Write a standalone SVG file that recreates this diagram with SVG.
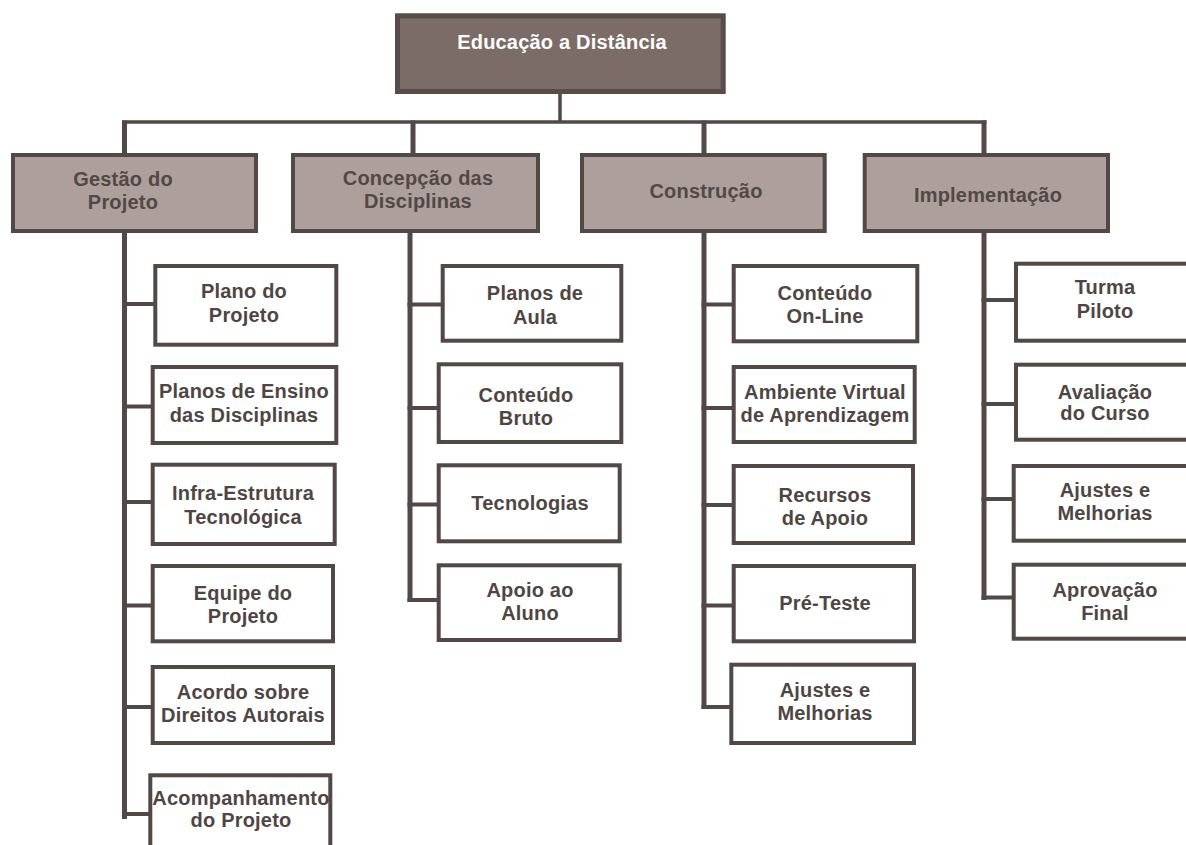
<svg xmlns="http://www.w3.org/2000/svg" width="1186" height="845" viewBox="0 0 1186 845">
<style>
text{font-family:"Liberation Sans",Arial,sans-serif;font-weight:bold;font-size:20px;letter-spacing:0.2px;text-anchor:middle}
.top rect{fill:#7b6c68;stroke:#564c49;stroke-width:5}
.top text{fill:#ffffff}
.l2 rect{fill:#ada09c;stroke:#524845;stroke-width:4}
.l2 text{fill:#524845}
.leaf rect{fill:#ffffff;stroke:#524845;stroke-width:4}
.leaf text{fill:#4f4643}
#connectors line{stroke:#524845;stroke-linecap:butt}
.v{stroke-width:5}
.h{stroke-width:4}
.bus{stroke-width:3.5}
</style>
<rect width="1186" height="845" fill="#ffffff"/>
<g id="connectors">
<line class="bus" x1="560" y1="94" x2="560" y2="122"/>
<line class="bus" x1="122" y1="122" x2="986.5" y2="122"/>
<line class="v" x1="124.5" y1="120.5" x2="124.5" y2="153"/>
<line class="v" x1="413" y1="120.5" x2="413" y2="153"/>
<line class="v" x1="704" y1="120.5" x2="704" y2="153"/>
<line class="v" x1="984" y1="120.5" x2="984" y2="153"/>
<line class="v" x1="124.5" y1="233" x2="124.5" y2="819"/>
<line class="h" x1="122" y1="304" x2="154" y2="304"/>
<line class="h" x1="122" y1="406.5" x2="152" y2="406.5"/>
<line class="h" x1="122" y1="502" x2="152" y2="502"/>
<line class="h" x1="122" y1="605.5" x2="152" y2="605.5"/>
<line class="h" x1="122" y1="707" x2="152" y2="707"/>
<line class="h" x1="122" y1="814" x2="150" y2="814"/>
<line class="v" x1="410" y1="233" x2="410" y2="602"/>
<line class="h" x1="407.5" y1="304.5" x2="446" y2="304.5"/>
<line class="h" x1="407.5" y1="408" x2="438" y2="408"/>
<line class="h" x1="407.5" y1="504.5" x2="438" y2="504.5"/>
<line class="h" x1="407.5" y1="600" x2="438" y2="600"/>
<line class="v" x1="704" y1="233" x2="704" y2="709"/>
<line class="h" x1="701.5" y1="304.5" x2="733" y2="304.5"/>
<line class="h" x1="701.5" y1="408" x2="733" y2="408"/>
<line class="h" x1="701.5" y1="505" x2="733" y2="505"/>
<line class="h" x1="701.5" y1="605.5" x2="733" y2="605.5"/>
<line class="h" x1="701.5" y1="707" x2="731" y2="707"/>
<line class="v" x1="984" y1="233" x2="984" y2="600"/>
<line class="h" x1="981.5" y1="300" x2="1015" y2="300"/>
<line class="h" x1="981.5" y1="404" x2="1015" y2="404"/>
<line class="h" x1="981.5" y1="499" x2="1013" y2="499"/>
<line class="h" x1="981.5" y1="597.5" x2="1013" y2="597.5"/>
</g>
<g id="root" class="top">
<rect x="397.5" y="15.8" width="325.7" height="75.7"/>
<text x="562" y="49">Educação a Distância</text>
</g>
<g id="gestao" class="l2">
<rect x="13" y="155" width="243" height="76"/>
<text x="123" y="186">Gestão do</text>
<text x="123" y="209">Projeto</text>
</g>
<g id="concepcao" class="l2">
<rect x="293" y="155" width="245" height="76"/>
<text x="418" y="185">Concepção das</text>
<text x="418" y="208">Disciplinas</text>
</g>
<g id="construcao" class="l2">
<rect x="582" y="155" width="242.7" height="76"/>
<text x="706" y="198">Construção</text>
</g>
<g id="implementacao" class="l2">
<rect x="864.7" y="155" width="243.3" height="76"/>
<text x="988" y="202">Implementação</text>
</g>
<g id="plano-projeto" class="leaf">
<rect x="155.3" y="266" width="181" height="78.7"/>
<text x="244" y="298">Plano do</text>
<text x="244" y="322">Projeto</text>
</g>
<g id="planos-ensino" class="leaf">
<rect x="152.7" y="367" width="183.6" height="76"/>
<text x="244" y="398">Planos de Ensino</text>
<text x="244" y="422">das Disciplinas</text>
</g>
<g id="infra" class="leaf">
<rect x="152.7" y="464.7" width="182" height="79.3"/>
<text x="243" y="500">Infra-Estrutura</text>
<text x="243" y="523.5">Tecnológica</text>
</g>
<g id="equipe" class="leaf">
<rect x="152.7" y="566" width="180.3" height="75.3"/>
<text x="243" y="599.5">Equipe do</text>
<text x="243" y="623">Projeto</text>
</g>
<g id="acordo" class="leaf">
<rect x="152.7" y="667" width="180.3" height="76"/>
<text x="243" y="698.5">Acordo sobre</text>
<text x="243" y="722">Direitos Autorais</text>
</g>
<g id="acompanhamento" class="leaf">
<rect x="150.3" y="775.3" width="180" height="90"/>
<text x="241" y="805">Acompanhamento</text>
<text x="241" y="827">do Projeto</text>
</g>
<g id="planos-aula" class="leaf">
<rect x="442.7" y="266" width="178.6" height="74.7"/>
<text x="535" y="300">Planos de</text>
<text x="535" y="323.5">Aula</text>
</g>
<g id="conteudo-bruto" class="leaf">
<rect x="438.7" y="364.3" width="182.6" height="77.7"/>
<text x="526" y="401.5">Conteúdo</text>
<text x="526" y="425">Bruto</text>
</g>
<g id="tecnologias" class="leaf">
<rect x="438.7" y="465.3" width="181" height="76"/>
<text x="530" y="509.5">Tecnologias</text>
</g>
<g id="apoio-aluno" class="leaf">
<rect x="438.7" y="565.3" width="181" height="74.7"/>
<text x="530" y="596.5">Apoio ao</text>
<text x="530" y="620">Aluno</text>
</g>
<g id="conteudo-online" class="leaf">
<rect x="733.7" y="266" width="183.6" height="75.3"/>
<text x="825" y="300">Conteúdo</text>
<text x="825" y="323">On-Line</text>
</g>
<g id="ambiente-virtual" class="leaf">
<rect x="733.7" y="367" width="181" height="75"/>
<text x="825" y="399">Ambiente Virtual</text>
<text x="825" y="422">de Aprendizagem</text>
</g>
<g id="recursos-apoio" class="leaf">
<rect x="733.7" y="466" width="179.3" height="77"/>
<text x="825" y="502">Recursos</text>
<text x="825" y="525">de Apoio</text>
</g>
<g id="pre-teste" class="leaf">
<rect x="733.7" y="566" width="180.3" height="75.3"/>
<text x="825" y="610">Pré-Teste</text>
</g>
<g id="ajustes-construcao" class="leaf">
<rect x="731.3" y="664.7" width="182.7" height="78.3"/>
<text x="825" y="697">Ajustes e</text>
<text x="825" y="720">Melhorias</text>
</g>
<g id="turma-piloto" class="leaf">
<rect x="1016" y="263.7" width="184" height="77"/>
<text x="1105" y="293.5">Turma</text>
<text x="1105" y="318">Piloto</text>
</g>
<g id="avaliacao" class="leaf">
<rect x="1016" y="364.7" width="184" height="75"/>
<text x="1105" y="398.5">Avaliação</text>
<text x="1105" y="420">do Curso</text>
</g>
<g id="ajustes-implementacao" class="leaf">
<rect x="1013.7" y="466" width="186" height="74.7"/>
<text x="1105" y="497">Ajustes e</text>
<text x="1105" y="520">Melhorias</text>
</g>
<g id="aprovacao" class="leaf">
<rect x="1013.7" y="564.7" width="186" height="74"/>
<text x="1105" y="597">Aprovação</text>
<text x="1105" y="620">Final</text>
</g>
</svg>
